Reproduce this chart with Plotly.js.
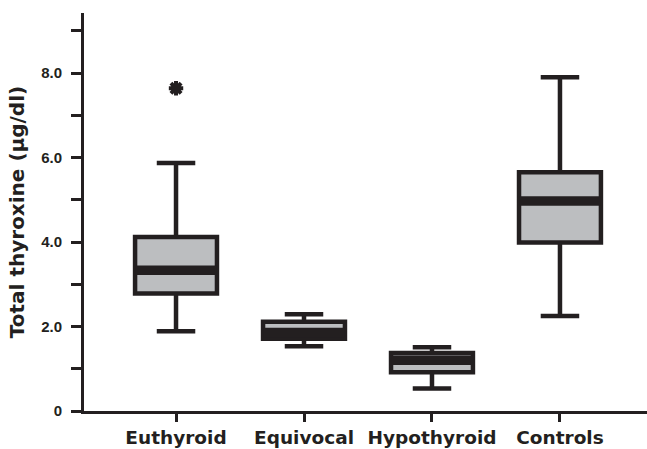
<!DOCTYPE html>
<html>
<head>
<meta charset="utf-8">
<script src="https://cdn.plot.ly/plotly-3.0.1.min.js"></script>
<style>html,body{margin:0;padding:0;background:#fff;}#chart{width:647px;height:449px;}</style>
</head>
<body>
<div id="chart"></div>
<script>
var categories = ['Euthyroid', 'Equivocal', 'Hypothyroid', 'Controls'];
var lowerWhisker = [1.89, 1.53, 0.53, 2.25];
var q1Values = [2.78, 1.71, 0.92, 3.99];
var medianValues = [3.33, 1.86, 1.20, 4.97];
var q3Values = [4.12, 2.11, 1.37, 5.65];
var upperWhisker = [5.87, 2.29, 1.51, 7.90];
var outlierGroup = ['Euthyroid'];
var outlierValues = [7.64];
var yTickVals = [0, 1, 2, 3, 4, 5, 6, 7, 8, 9];
var yTickText = ['0', '', '2.0', '', '4.0', '', '6.0', '', '8.0', ''];

var ink = '#231f20';
var grey = '#bcbec0';
var pos = categories.map(function (c, i) { return i; });
var halfBox = 0.32;

var medX = [], medY = [];
pos.forEach(function (p, i) {
  medX.push(p - halfBox, p + halfBox, null);
  medY.push(medianValues[i], medianValues[i], null);
});

var traces = [
  {
    type: 'box',
    x: pos,
    q1: q1Values,
    median: medianValues,
    q3: q3Values,
    lowerfence: lowerWhisker,
    upperfence: upperWhisker,
    width: halfBox * 2,
    whiskerwidth: 0.47,
    fillcolor: grey,
    line: {color: ink, width: 4.5},
    boxpoints: false,
    hoverinfo: 'skip',
    showlegend: false
  },
  {
    type: 'scatter',
    mode: 'lines',
    x: medX,
    y: medY,
    line: {color: ink, width: 9.5},
    hoverinfo: 'skip',
    showlegend: false
  },
  {
    type: 'scatter',
    mode: 'markers',
    x: outlierGroup.map(function (g) { return categories.indexOf(g); }),
    y: outlierValues,
    marker: {symbol: 'asterisk-open', size: 12, color: ink, line: {color: ink, width: 4}},
    hoverinfo: 'skip',
    showlegend: false
  }
];

var wide = '"DejaVu Sans", Verdana, sans-serif';
var narrow = '"Liberation Sans", Arial, sans-serif';

var layout = {
  width: 647,
  height: 449,
  margin: {l: 84, r: 0, t: 13, b: 38},
  paper_bgcolor: '#fff',
  plot_bgcolor: '#fff',
  font: {family: narrow, color: ink},
  showlegend: false,
  xaxis: {
    range: [-0.719, 3.68],
    tickvals: pos,
    ticktext: categories.map(function (c) { return '<b>' + c + '</b>'; }),
    tickfont: {family: wide, size: 18.5, color: ink},
    ticks: 'outside',
    ticklen: 8,
    tickwidth: 3,
    tickcolor: ink,
    showline: true,
    linecolor: ink,
    linewidth: 3,
    showgrid: false,
    zeroline: false,
    fixedrange: true
  },
  yaxis: {
    range: [0, 9.42],
    tickvals: yTickVals,
    ticktext: yTickText.map(function (t) { return t ? '<b>' + t + '</b>' : ''; }),
    tickfont: {family: narrow, size: 15, color: ink},
    ticklabelstandoff: 6,
    ticks: 'outside',
    ticklen: 10,
    tickwidth: 3,
    tickcolor: ink,
    showline: true,
    linecolor: ink,
    linewidth: 3,
    showgrid: false,
    zeroline: false,
    fixedrange: true,
    title: {text: '<b>Total thyroxine (µg/dl)</b>', font: {family: wide, size: 20, color: ink}, standoff: 12}
  }
};

Plotly.newPlot('chart', traces, layout, {staticPlot: true, displayModeBar: false});
</script>
</body>
</html>
